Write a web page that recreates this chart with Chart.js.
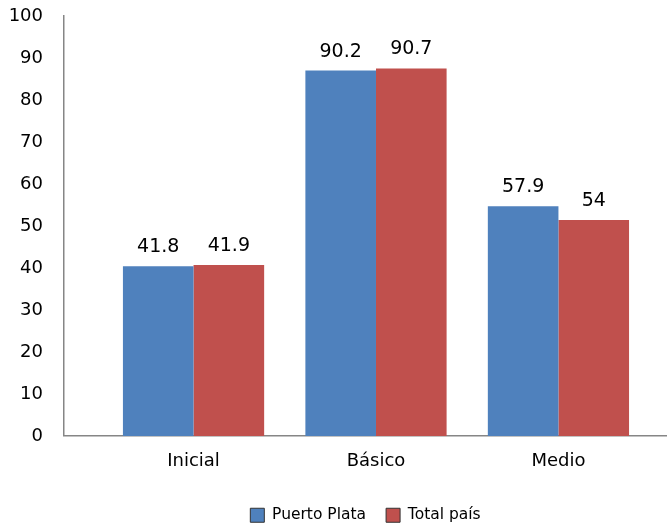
<!DOCTYPE html>
<html>
<head>
<meta charset="utf-8">
<script src="https://cdn.jsdelivr.net/npm/chart.js@4/dist/chart.umd.min.js"></script>
<style>
  html, body { margin: 0; padding: 0; background: #fff; }
  #wrap { width: 667px; height: 527px; }
</style>
</head>
<body>
<div id="wrap"><canvas id="chart"></canvas></div>
<script>
/* --------------- Data --------------------- */
const categories = ["Inicial", "Básico", "Medio"];
const seriesNames = ["Puerto Plata", "Total país"];
// bar heights as drawn in the picture
const puertoPlata = [40.4, 87.0, 54.7];
const totalPais = [40.7, 87.5, 51.4];
// value labels as printed above the bars
const puertoPlataLabels = ["41.8", "90.2", "57.9"];
const totalPaisLabels = ["41.9", "90.7", "54"];
const yMin = 0, yMax = 100, yStep = 10;

const seriesColors = ["#4F81BD", "#C0504D"];
const textFont = "'DejaVu Sans', sans-serif";

/* --------------- Value labels above bars --------------------- */
const valueLabels = {
  id: "valueLabels",
  afterDatasetsDraw(chart) {
    const ctx = chart.ctx;
    const texts = [puertoPlataLabels, totalPaisLabels];
    ctx.save();
    ctx.font = "19px " + textFont;
    ctx.fillStyle = "#000";
    ctx.textAlign = "center";
    ctx.textBaseline = "middle";
    chart.data.datasets.forEach((ds, i) => {
      chart.getDatasetMeta(i).data.forEach((bar, j) => {
        ctx.fillText(texts[i][j], bar.x, bar.y - 19);
      });
    });
    ctx.restore();
  },
};

const toPoints = (arr) => arr.map((v, i) => ({ x: i, y: v }));

/* --------------- Chart --------------------- */
new Chart(document.getElementById("chart"), {
  type: "bar",
  plugins: [valueLabels],
  data: {
    datasets: [
      { label: seriesNames[0], data: toPoints(puertoPlata), backgroundColor: seriesColors[0] },
      { label: seriesNames[1], data: toPoints(totalPais), backgroundColor: seriesColors[1] },
    ],
  },
  options: {
    responsive: true,
    maintainAspectRatio: false,
    animation: false,
    datasets: { bar: { categoryPercentage: 0.774, barPercentage: 1.0 } },
    layout: { padding: { top: 16, right: 0, left: 0, bottom: -6 } },
    scales: {
      x: {
        type: "linear",
        offset: false,
        min: -0.71,
        max: 2.595,
        grid: { display: false, drawTicks: false },
        border: { display: true, color: "#868686", width: 1.5 },
        afterBuildTicks: (scale) => {
          // keep only the category positions
          scale.ticks = scale.ticks.filter((t) => Number.isInteger(t.value));
        },
        afterFit: (scale) => {
          scale.paddingLeft = 0;
          scale.paddingRight = 0;
        },
        ticks: {
          stepSize: 1,
          autoSkip: false,
          padding: 15,
          color: "#000",
          font: { family: textFont, size: 18 },
          callback: (v) => (categories[v] !== undefined ? categories[v] : ""),
        },
      },
      y: {
        min: yMin,
        max: yMax,
        grid: { display: false, drawTicks: false },
        border: { display: true, color: "#868686", width: 1.5 },
        afterFit: (scale) => {
          scale.width = 64;
          scale.paddingTop = 0;
          scale.paddingBottom = 0;
        },
        ticks: {
          stepSize: yStep,
          padding: 21,
          color: "#000",
          font: { family: textFont, size: 18 },
        },
      },
    },
    plugins: {
      tooltip: { enabled: false },
      legend: {
        position: "bottom",
        fullSize: false,
        labels: {
          boxWidth: 14,
          boxHeight: 14,
          padding: 20,
          color: "#000",
          font: { family: textFont, size: 15.5 },
          generateLabels: (chart) =>
            Chart.defaults.plugins.legend.labels.generateLabels(chart).map((item) => ({
              ...item,
              strokeStyle: "#333",
              lineWidth: 1,
            })),
        },
      },
    },
  },
});
</script>
</body>
</html>
